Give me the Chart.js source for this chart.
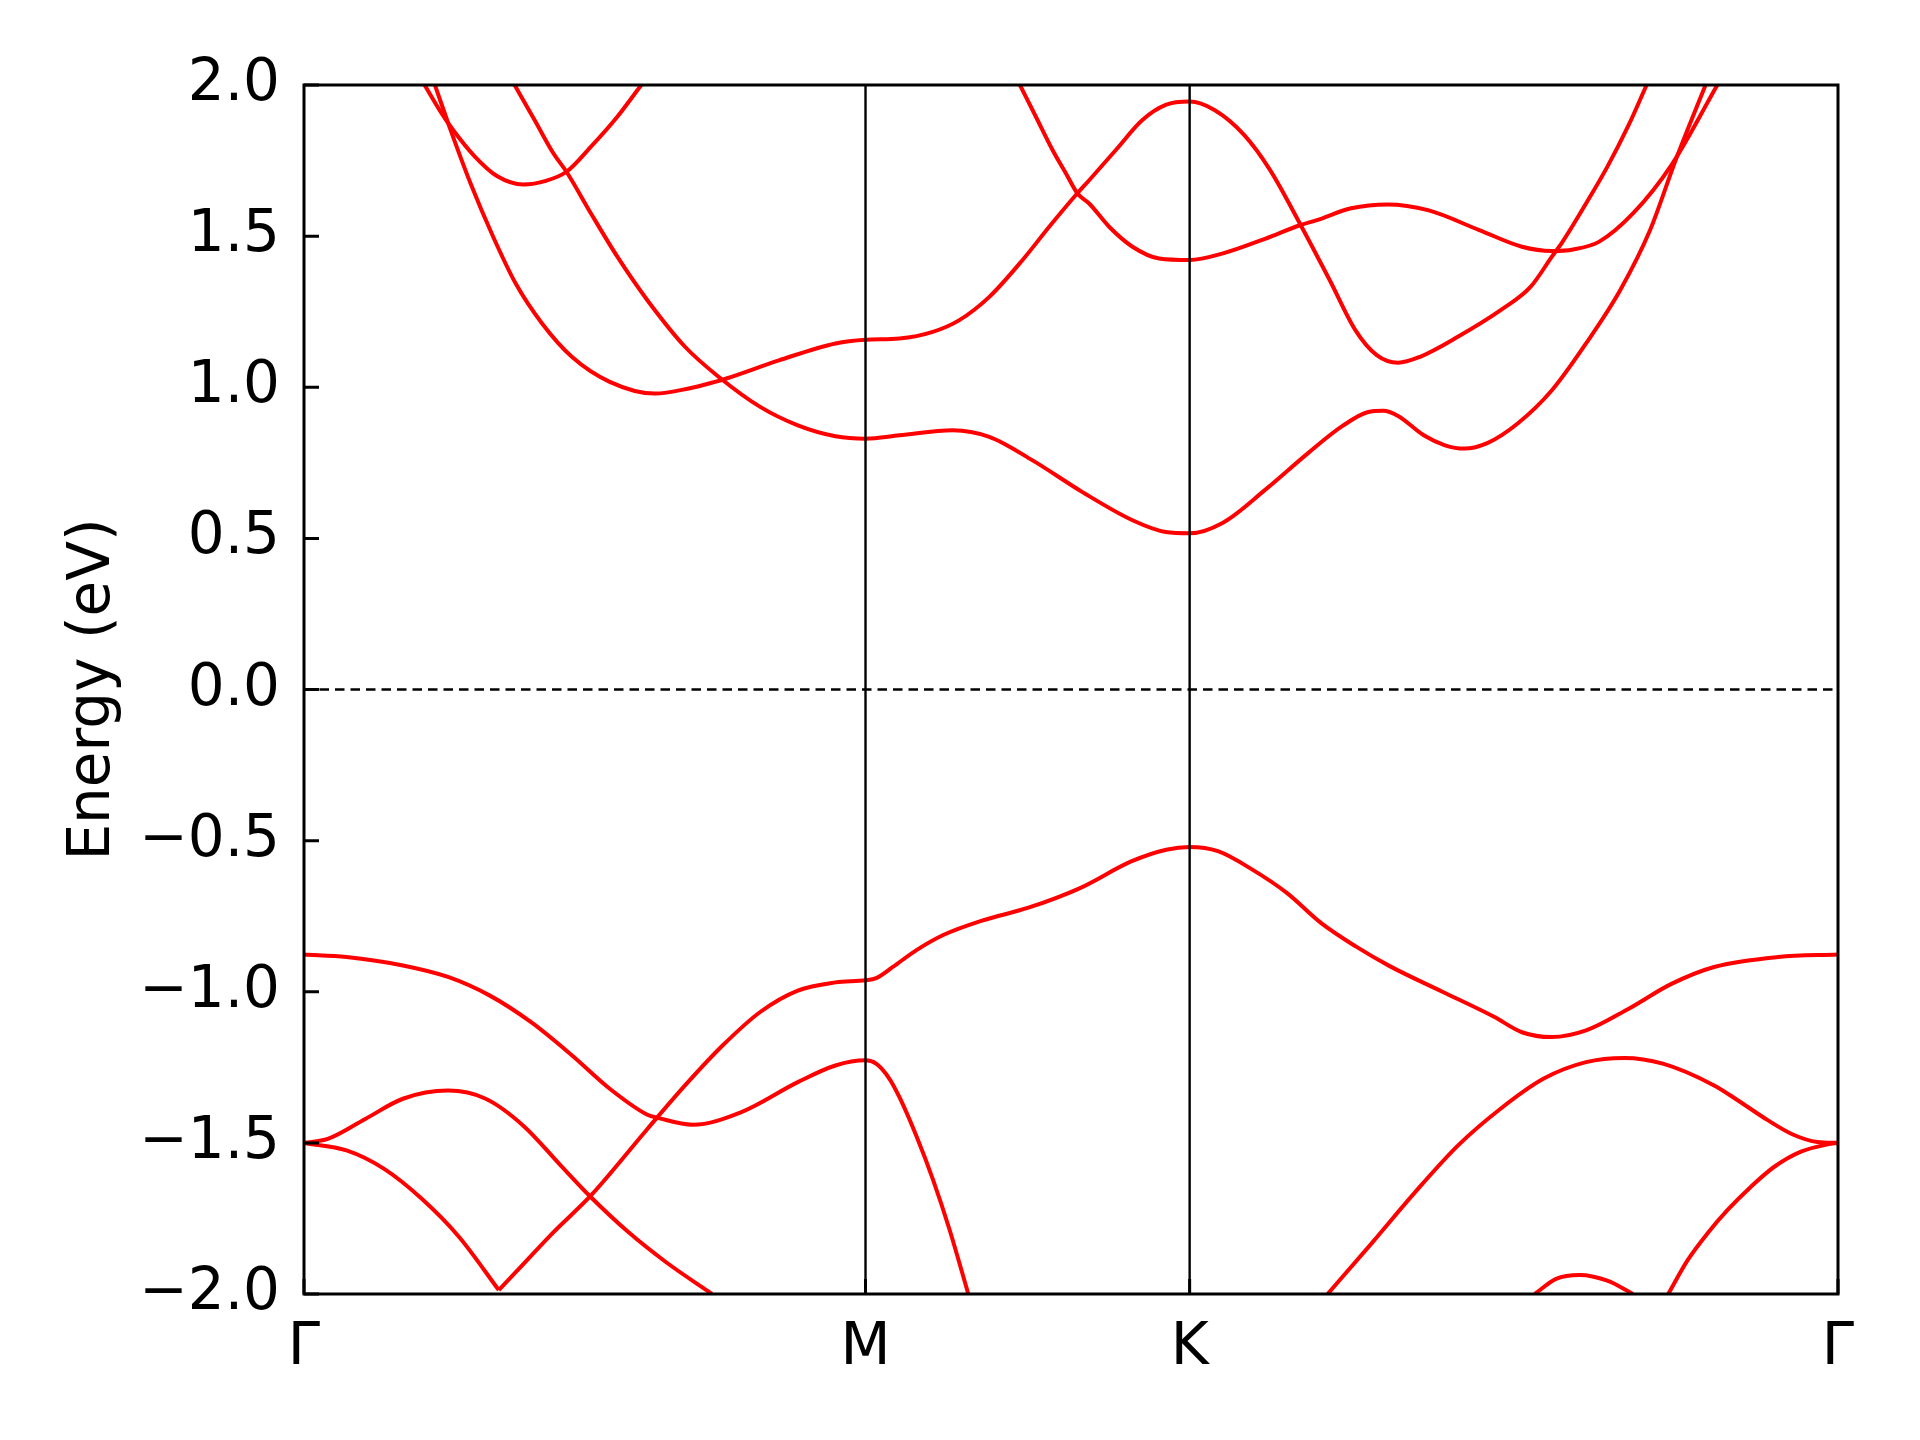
<!DOCTYPE html>
<html>
<head>
<meta charset="utf-8">
<script src="https://cdn.jsdelivr.net/npm/chart.js@4.4.1/dist/chart.umd.min.js"></script>
<style>
  html, body { margin: 0; padding: 0; background: #ffffff; }
  #wrap { width: 1920px; height: 1440px; }
</style>
</head>
<body>
<div id="wrap"><canvas id="c" width="1920" height="1440"></canvas></div>
<script>
// ---- high-symmetry path (k-distance) and labels ----
const kTicks = [0, 0.5774, 0.9107, 1.5774];
const kLabels = ['Γ', 'M', 'K', 'Γ'];
const yTicks = [-2, -1.5, -1, -0.5, 0, 0.5, 1, 1.5, 2];
const yTickLabels = ['\u22122.0', '\u22121.5', '\u22121.0', '\u22120.5', '0.0', '0.5', '1.0', '1.5', '2.0'];
const yMin = -2, yMax = 2;

// ---- bands: [k, E (eV)] ----
const cb1 = [[0.2166,2.0],[0.2371,1.884],[0.2564,1.774],[0.2699,1.713],[0.2951,1.575],[0.3222,1.432],[0.3531,1.288],[0.3918,1.134],[0.4266,1.034],[0.4691,0.935],[0.5078,0.874],[0.5465,0.838],[0.5774,0.830],[0.6123,0.841],[0.6671,0.858],[0.7047,0.836],[0.7492,0.758],[0.8005,0.653],[0.8519,0.560],[0.8861,0.521],[0.9107,0.517],[0.9450,0.552],[0.9889,0.662],[1.0328,0.783],[1.0679,0.872],[1.0943,0.918],[1.1097,0.922],[1.1250,0.905],[1.1514,0.841],[1.1733,0.808],[1.1931,0.797],[1.2173,0.816],[1.2480,0.880],[1.2832,0.990],[1.3183,1.145],[1.3534,1.321],[1.3842,1.520],[1.4105,1.752],[1.4412,2.0]];
const cb2 = [[0.1346,2.0],[0.1520,1.840],[0.1713,1.674],[0.1945,1.498],[0.2177,1.343],[0.2448,1.211],[0.2757,1.100],[0.3144,1.018],[0.3608,0.979],[0.3956,0.996],[0.4227,1.018],[0.4343,1.029],[0.4884,1.089],[0.5465,1.145],[0.5774,1.157],[0.6123,1.161],[0.6465,1.183],[0.6739,1.222],[0.7047,1.299],[0.7389,1.421],[0.7663,1.531],[0.7937,1.636],[0.8074,1.685],[0.8348,1.785],[0.8621,1.884],[0.8861,1.934],[0.9107,1.945],[0.9362,1.917],[0.9669,1.834],[0.9933,1.719],[1.0240,1.542],[1.0548,1.354],[1.0811,1.189],[1.1031,1.106],[1.1250,1.081],[1.1470,1.100],[1.1865,1.167],[1.2305,1.255],[1.2612,1.332],[1.2832,1.432],[1.2941,1.481],[1.3183,1.608],[1.3403,1.730],[1.3622,1.868],[1.3806,2.0]];
const cb3 = [[0.1240,2.0],[0.1404,1.912],[0.1520,1.857],[0.1752,1.765],[0.1984,1.699],[0.2255,1.671],[0.2487,1.683],[0.2699,1.713],[0.2951,1.796],[0.3222,1.895],[0.3468,2.0]];
const cb4 = [[0.7362,2.0],[0.7526,1.895],[0.7697,1.785],[0.7834,1.708],[0.7954,1.641],[0.8074,1.608],[0.8279,1.531],[0.8519,1.465],[0.8793,1.426],[0.9107,1.421],[0.9450,1.443],[0.9889,1.492],[1.0240,1.536],[1.0416,1.553],[1.0767,1.592],[1.1141,1.605],[1.1558,1.586],[1.2085,1.520],[1.2524,1.465],[1.2832,1.451],[1.3051,1.456],[1.3315,1.481],[1.3666,1.575],[1.4061,1.735],[1.4533,2.0]];
const vb1a = [[0,-1.500],[0.0437,-1.525],[0.0824,-1.586],[0.1211,-1.685],[0.1597,-1.812],[0.2003,-1.987]];
const vb1b = [[0.2003,-1.987],[0.2177,-1.928],[0.2564,-1.796],[0.2951,-1.674],[0.3531,-1.454],[0.3918,-1.310],[0.4304,-1.178],[0.4691,-1.067],[0.5078,-0.996],[0.5465,-0.969],[0.5774,-0.962],[0.5883,-0.955],[0.6055,-0.918],[0.6294,-0.863],[0.6568,-0.813],[0.6979,-0.764],[0.7449,-0.722],[0.7980,-0.657],[0.8512,-0.568],[0.8866,-0.530],[0.9107,-0.521],[0.9398,-0.535],[0.9752,-0.596],[1.0106,-0.673],[1.0460,-0.773],[1.0815,-0.850],[1.1169,-0.916],[1.1700,-0.999],[1.2232,-1.082],[1.2524,-1.134],[1.2832,-1.150],[1.3183,-1.128],[1.3622,-1.056],[1.4061,-0.974],[1.4500,-0.918],[1.5159,-0.885],[1.5774,-0.877]];
const vb2 = [[0,-0.877],[0.0437,-0.885],[0.1017,-0.913],[0.1481,-0.951],[0.1907,-1.012],[0.2332,-1.100],[0.2757,-1.211],[0.3144,-1.321],[0.3531,-1.407],[0.3647,-1.418],[0.3995,-1.440],[0.4498,-1.398],[0.5078,-1.299],[0.5465,-1.244],[0.5774,-1.227],[0.5883,-1.238],[0.6020,-1.288],[0.6123,-1.349],[0.6294,-1.475],[0.6465,-1.619],[0.6636,-1.785],[0.6831,-2.0]];
const vb3 = [[0,-1.500],[0.0244,-1.487],[0.0630,-1.421],[0.1017,-1.354],[0.1481,-1.327],[0.1868,-1.354],[0.2255,-1.443],[0.2641,-1.575],[0.2951,-1.680],[0.3338,-1.796],[0.3724,-1.895],[0.4196,-2.0]];
const vb4 = [[1.0526,-2.0],[1.0987,-1.829],[1.1426,-1.663],[1.1865,-1.509],[1.2304,-1.387],[1.2744,-1.288],[1.3183,-1.233],[1.3578,-1.219],[1.3973,-1.238],[1.4500,-1.310],[1.4738,-1.358],[1.5047,-1.424],[1.5321,-1.474],[1.5562,-1.497],[1.5774,-1.500]];
const vb5 = [[1.4028,-2.0],[1.4228,-1.888],[1.4433,-1.799],[1.4639,-1.722],[1.4879,-1.645],[1.5119,-1.579],[1.5393,-1.529],[1.5668,-1.505],[1.5774,-1.500]];
const vb6 = [[1.2656,-2.0],[1.2875,-1.950],[1.3117,-1.937],[1.3402,-1.956],[1.3666,-2.0]];

const bands = [cb1, cb2, cb3, cb4, vb1a, vb1b, vb2, vb3, vb4, vb5, vb6];

const toXY = arr => arr.map(([x, y]) => ({ x, y }));

const guideSets = [
  { data: [{ x: kTicks[1], y: yMin }, { x: kTicks[1], y: yMax }], borderColor: '#000', borderWidth: 2.4 },
  { data: [{ x: kTicks[2], y: yMin }, { x: kTicks[2], y: yMax }], borderColor: '#000', borderWidth: 2.4 },
  { data: [{ x: kTicks[0], y: 0 }, { x: kTicks[3], y: 0 }], borderColor: '#000', borderWidth: 2.4, borderDash: [9.5, 6] }
].map(d => Object.assign(d, { pointRadius: 0, tension: 0, fill: false, clip: 0 }));

const bandSets = bands.map(b => ({
  data: toXY(b),
  borderColor: '#ff0000',
  borderWidth: 4,
  pointRadius: 0,
  fill: false,
  cubicInterpolationMode: 'monotone',
  borderJoinStyle: 'round',
  clip: 0
}));

Chart.defaults.font.family = 'DejaVu Sans';
Chart.defaults.color = '#000';

const framePlugin = {
  id: 'frame',
  afterDraw(chart) {
    const { ctx, chartArea: a, scales } = chart;
    ctx.save();
    ctx.strokeStyle = '#000';
    ctx.lineWidth = 3;
    ctx.beginPath();
    scales.y.ticks.forEach(t => {
      const py = scales.y.getPixelForValue(t.value);
      ctx.moveTo(a.left, py); ctx.lineTo(a.left + 15, py);
    });
    scales.x.ticks.forEach(t => {
      const px = scales.x.getPixelForValue(t.value);
      ctx.moveTo(px, a.bottom); ctx.lineTo(px, a.bottom - 15);
    });
    ctx.stroke();
    ctx.strokeRect(a.left, a.top, a.right - a.left, a.bottom - a.top);
    ctx.restore();
  }
};

new Chart(document.getElementById('c'), {
  type: 'line',
  data: { datasets: guideSets.concat(bandSets) },
  options: {
    responsive: false,
    animation: false,
    devicePixelRatio: 1,
    parsing: true,
    layout: { padding: { top: 85, right: 82, bottom: 0, left: 0 } },
    plugins: { legend: { display: false }, tooltip: { enabled: false } },
    scales: {
      x: {
        type: 'linear',
        min: kTicks[0], max: kTicks[3],
        grid: { display: false, drawTicks: false },
        border: { display: false },
        afterBuildTicks: s => { s.ticks = kTicks.map(v => ({ value: v })); },
        afterFit: s => { s.height = 146; },
        ticks: {
          autoSkip: false, maxRotation: 0, padding: 20,
          font: { size: 58 },
          callback: (v, i) => kLabels[i]
        }
      },
      y: {
        type: 'linear',
        min: yMin, max: yMax,
        grid: { display: false, drawTicks: false },
        border: { display: false },
        afterBuildTicks: s => { s.ticks = yTicks.map(v => ({ value: v })); },
        afterFit: s => { s.width = 304; },
        title: {
          display: true, text: 'Energy (eV)',
          font: { size: 58, lineHeight: 1 },
          padding: { top: 65, bottom: 0 }
        },
        ticks: {
          autoSkip: false, padding: 24,
          font: { size: 58 },
          callback: v => yTickLabels[yTicks.indexOf(v)]
        }
      }
    }
  },
  plugins: [framePlugin]
});
</script>
</body>
</html>
